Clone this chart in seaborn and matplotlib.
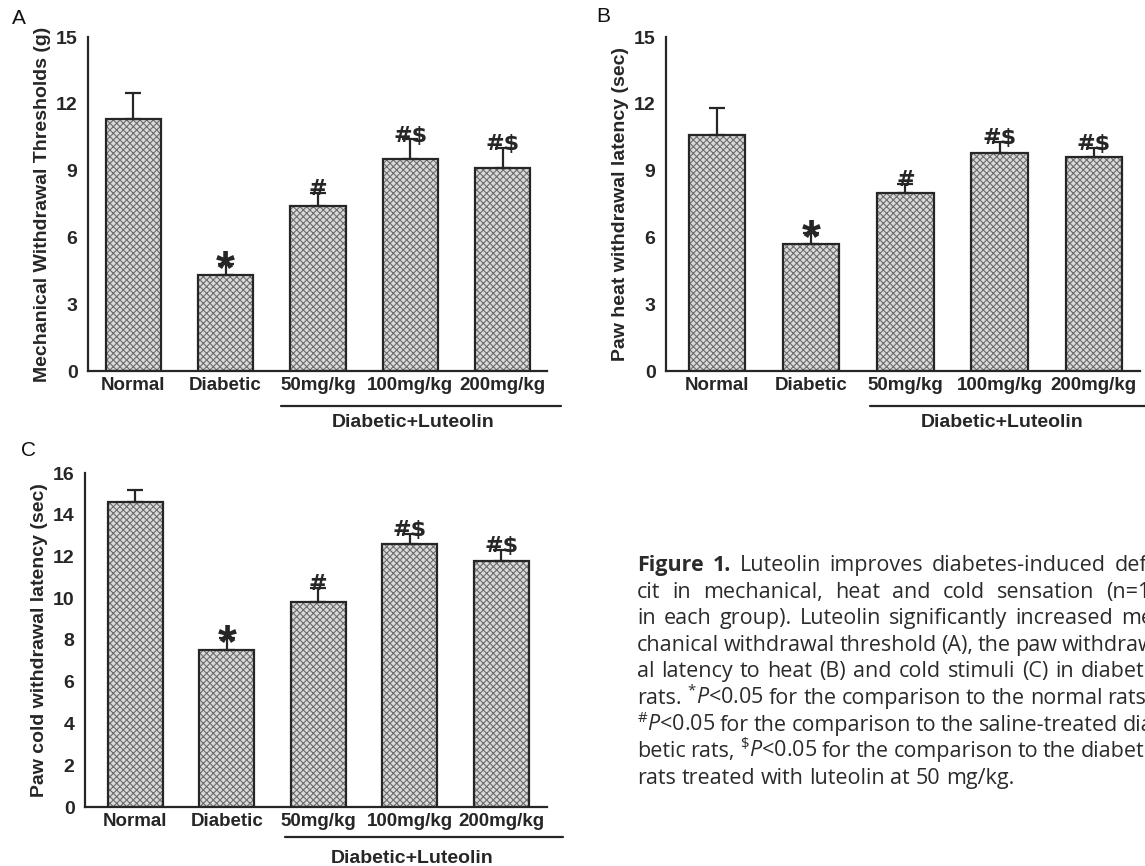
import numpy as np
import matplotlib
matplotlib.use("Agg")
import matplotlib.pyplot as plt
import matplotlib.patches as mpatches
import matplotlib.transforms as mtransforms
from matplotlib.ticker import AutoMinorLocator
import seaborn as sns

# data
groups = ["Normal", "Diabetic", "50mg/kg", "100mg/kg", "200mg/kg"]
treat_label = "Diabetic+Luteolin"
marks = ["", "*", "#", "#$", "#$"]

mech_mean = [11.3, 4.3, 7.4, 9.5, 9.1]
mech_top = [12.5, 4.8, 8.0, 10.4, 10.0]
heat_mean = [10.6, 5.7, 8.0, 9.8, 9.6]
heat_top = [11.8, 6.2, 8.4, 10.3, 10.0]
cold_mean = [14.6, 7.5, 9.8, 12.6, 11.8]
cold_top = [15.2, 8.1, 10.5, 13.1, 12.3]

caption_lines = [
    "Figure 1. Luteolin improves diabetes-induced defi-",
    "cit in mechanical, heat and cold sensation (n=1",
    "in each group). Luteolin significantly increased me-",
    "chanical withdrawal threshold (A), the paw withdraw-",
    "al latency to heat (B) and cold stimuli (C) in diabetic",
    r"rats. $^{*}\mathit{P}$<0.05 for the comparison to the normal rats,",
    r"$^{\#}\mathit{P}$<0.05 for the comparison to the saline-treated dia-",
    r"betic rats, $^{\$}\mathit{P}$<0.05 for the comparison to the diabetic",
    "rats treated with luteolin at 50 mg/kg.",
]
# right edge (px) each justified line is stretched to; None = ragged
caption_right = [1160, 1150, 1160, 1162, 1160, 1152, 1160, 1160, None]

W, H = 1145, 866
ink = "#262626"
face = "#d9d9d9"
hatch_c = "#6e6e6e"

sns.set_style("white")
plt.rcParams["font.family"] = ["Liberation Sans", "DejaVu Sans"]
plt.rcParams["hatch.linewidth"] = 0.8
plt.rcParams["mathtext.fontset"] = "custom"
plt.rcParams["mathtext.rm"] = "Open Sans"
plt.rcParams["mathtext.it"] = "Open Sans:italic"
plt.rcParams["mathtext.bf"] = "Open Sans:bold"

fig = plt.figure(figsize=(W / 100, H / 100), dpi=100)


def px_rect(left, right, top, bottom):
    return [left / W, 1 - bottom / H, (right - left) / W, (bottom - top) / H]


def panel(rect, letter, letter_xy, mean, top, ylabel, ymax, ystep, xlim, span, line_y):
    ax = fig.add_axes(rect)
    sns.barplot(x=groups, y=mean, ax=ax, color=face, width=0.6, errorbar=None, zorder=2)
    bars = list(ax.patches)
    for p in bars:
        p.set_facecolor(face)
        p.set_edgecolor(hatch_c)
        p.set_hatch("xxxxx")
        p.set_linewidth(0)
        ax.add_patch(mpatches.Rectangle(p.get_xy(), p.get_width(), p.get_height(),
                                        fill=False, edgecolor=ink, lw=1.6, zorder=3))
    pos = np.arange(len(groups))
    ax.errorbar(pos, mean, yerr=[np.zeros(len(mean)), np.subtract(top, mean)],
                fmt="none", ecolor=ink, elinewidth=1.6, capsize=5.5, capthick=1.6, zorder=2.5)
    for i, m in enumerate(marks):
        if m == "*":
            ax.annotate(m, (i, top[i]), xytext=(0, -13.5), textcoords="offset points",
                        ha="center", va="baseline", fontsize=35, fontweight="bold",
                        color=ink, zorder=4)
        elif m:
            ax.annotate(m, (i, top[i]), xytext=(0, -1.5), textcoords="offset points",
                        ha="center", va="baseline", fontsize=16, fontweight="bold",
                        family="DejaVu Sans", color=ink, zorder=4)

    ax.set_xlim(xlim)
    ax.set_ylim(0, ymax)
    ax.set_yticks(np.arange(0, ymax + 1, ystep))
    ax.yaxis.set_minor_locator(AutoMinorLocator(2))
    ax.tick_params(axis="y", which="major", direction="out", length=4.5, width=1.3,
                   pad=3, labelsize=14, colors=ink)
    ax.tick_params(axis="y", which="minor", direction="out", length=2.5, width=1.1, colors=ink)
    ax.tick_params(axis="x", length=0, pad=4.5, labelsize=13.5, colors=ink)
    for lab in ax.get_xticklabels() + ax.get_yticklabels():
        lab.set_fontweight("bold")
    ax.set_xlabel("")
    ax.set_ylabel(ylabel, fontsize=14, fontweight="bold", labelpad=3.5, color=ink)
    for s in ["top", "right"]:
        ax.spines[s].set_visible(False)
    for s in ["left", "bottom"]:
        ax.spines[s].set_color(ink)
        ax.spines[s].set_linewidth(1.6)

    trans = mtransforms.blended_transform_factory(ax.transData, ax.transAxes)
    ax.plot(span, [line_y, line_y], transform=trans, color=ink, lw=1.6, clip_on=False)
    ax.text(3.03, -0.153, treat_label, transform=trans, ha="center", va="center",
            fontsize=14, fontweight="bold", color=ink)
    fig.text(letter_xy[0] / W, 1 - letter_xy[1] / H, letter, fontsize=15,
             ha="center", va="center", color="#111111")
    return ax


panel(px_rect(88, 547, 37, 371), "A", (19, 19), mech_mean, mech_top,
      "Mechanical Withdrawal Thresholds (g)", 15, 3, (-0.49, 4.48), [1.6, 4.63], -0.105)
panel(px_rect(666, 1140, 37, 371), "B", (603, 17), heat_mean, heat_top,
      "Paw heat withdrawal latency (sec)", 15, 3, (-0.54, 4.49), [1.62, 4.65], -0.105)
panel(px_rect(85, 547, 473, 807), "C", (28, 450), cold_mean, cold_top,
      "Paw cold withdrawal latency (sec)", 16, 2, (-0.55, 4.5), [1.64, 4.67], -0.09)

# justified caption block
renderer = fig.canvas.get_renderer()
cap_left = 637
cap_size = 15.5
for i, line in enumerate(caption_lines):
    y = 1 - (571 + i * 26.6) / H
    words = line.split(" ")
    objs = []
    for j, w in enumerate(words):
        bold = (i == 0 and j < 2)
        objs.append(fig.text(0, y, w, fontsize=cap_size, family="Open Sans",
                             fontweight="bold" if bold else "normal",
                             color="#2b2b2b", va="baseline", ha="left"))
    widths = [o.get_window_extent(renderer).width for o in objs]
    if caption_right[i] is not None:
        gap = (caption_right[i] - cap_left - sum(widths)) / (len(words) - 1)
    else:
        gap = cap_size * 100 / 72 * 0.26
    x = cap_left
    for o, wd in zip(objs, widths):
        o.set_x(x / W)
        x += wd + gap

fig.savefig("out.png", dpi=100)
